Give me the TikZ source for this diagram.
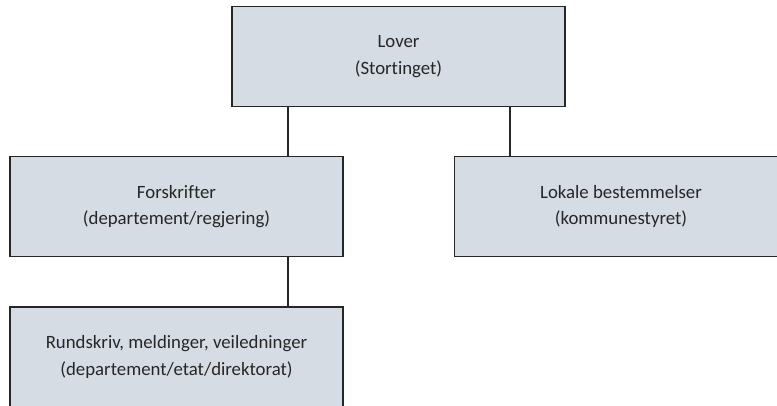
\documentclass[tikz,border=0pt]{standalone}
\usepackage{fontspec}
\setmainfont[Ligatures={NoCommon}]{Carlito}
\definecolor{boxfill}{RGB}{214,220,228}
\definecolor{boxline}{RGB}{38,38,38}
\begin{document}
\begin{tikzpicture}[x=1pt,y=1pt,
  orgbox/.style={draw=boxline, line width=1.6pt, fill=boxfill, rectangle,
    minimum width=333pt, minimum height=100pt, inner sep=0pt, align=center,
    font=\fontsize{18.8pt}{26.5pt}\selectfont, text=black!85},
  link/.style={draw=boxline, line width=1.6pt}]
\useasboundingbox (0,0) rectangle (777,-405);
\clip (0,0) rectangle (777,-405);
\fill[white] (0,0) rectangle (777,-405);
\node[orgbox] (lover) at (398.5,-56.5) {Lover\\(Stortinget)};
\node[orgbox] (forsk) at (176.5,-206.5) {Forskrifter\\(departement/regjering)};
\node[orgbox] (lokal) at (621,-206.5) {Lokale bestemmelser\\(kommunestyret)};
\node[orgbox] (rund) at (176.5,-357) {Rundskriv, meldinger, veiledninger\\(departement/etat/direktorat)};
\coordinate (xl) at (288,0);
\coordinate (xr) at (510,0);
\draw[link] (lover.south -| xl) -- (forsk.north -| xl);
\draw[link] (lover.south -| xr) -- (lokal.north -| xr);
\draw[link] (forsk.south -| xl) -- (rund.north -| xl);
\end{tikzpicture}
\end{document}
